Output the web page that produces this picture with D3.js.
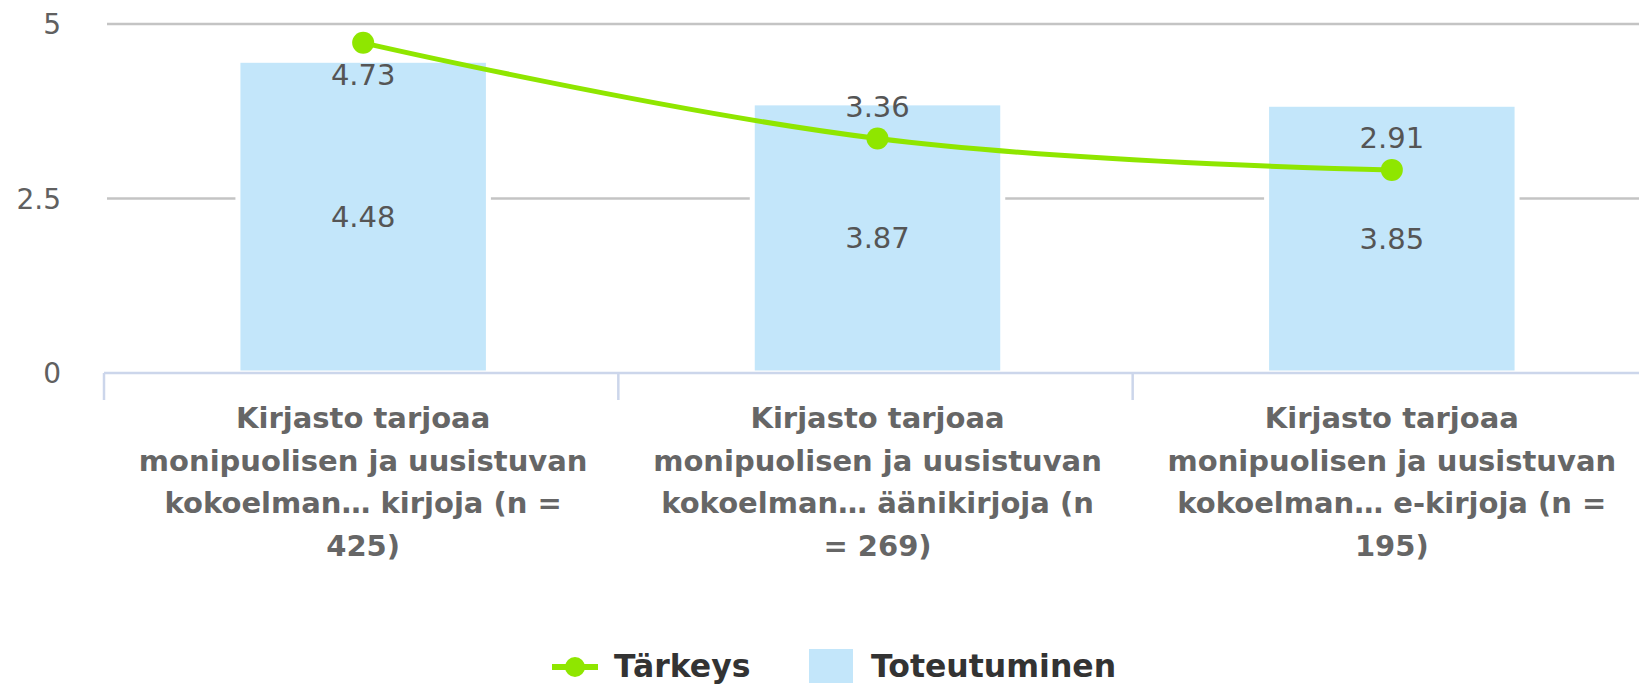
<!DOCTYPE html>
<html><head><meta charset="utf-8">
<script src="https://cdn.jsdelivr.net/npm/d3@7"></script>
<style>html,body{margin:0;padding:0;background:#fff;overflow:hidden}</style>
</head><body>
<svg id="chart" width="1639" height="689"></svg>
<script>
const categories = ["kirjoja", "äänikirjoja", "e-kirjoja"];
const categoryLabelLines = [
  ["Kirjasto tarjoaa", "monipuolisen ja uusistuvan", "kokoelman… kirjoja (n =", "425)"],
  ["Kirjasto tarjoaa", "monipuolisen ja uusistuvan", "kokoelman… äänikirjoja (n", "= 269)"],
  ["Kirjasto tarjoaa", "monipuolisen ja uusistuvan", "kokoelman… e-kirjoja (n =", "195)"]
];
const toteutuminen = [4.48, 3.87, 3.85];
const tarkeys = [4.73, 3.36, 2.91];
const yTicks = [0, 2.5, 5];
const seriesNames = ["Tärkeys", "Toteutuminen"];

const svg = d3.select("#chart");
const plotLeft = 104, plotRight = 1647, plotTop = 24, plotBottom = 373;
const FONT = "'DejaVu Sans', sans-serif";
const green = "#8fe600", blue = "#c3e6fa";

const x = d3.scaleBand().domain(categories).range([plotLeft, plotRight]).paddingInner(0).paddingOuter(0);
const y = d3.scaleLinear().domain([0, 5]).range([plotBottom, plotTop]);

// gridlines
svg.append("g").selectAll("line").data(yTicks.filter(t => t > 0)).join("line")
  .attr("x1", plotLeft + 3).attr("x2", 1639)
  .attr("y1", d => y(d)).attr("y2", d => y(d))
  .attr("stroke", "#c4c4c4").attr("stroke-width", 2.5);

// y tick labels
svg.append("g").selectAll("text").data(yTicks).join("text")
  .attr("x", 61).attr("y", d => y(d)).attr("dy", "0.36em")
  .attr("text-anchor", "end").attr("font-family", FONT).attr("font-size", 28)
  .attr("fill", "#606060").text(d => d);

// bars
const bw = x.bandwidth() * 0.487;
svg.append("g").selectAll("rect").data(toteutuminen).join("rect")
  .attr("x", (d, i) => x(categories[i]) + x.bandwidth() / 2 - bw / 2 + 2)
  .attr("width", bw)
  .attr("y", d => y(d)).attr("height", d => y(0) - y(d))
  .attr("fill", blue).attr("stroke", "#fff").attr("stroke-width", 5);

// x axis line and ticks
svg.append("line").attr("x1", plotLeft).attr("x2", 1639).attr("y1", plotBottom).attr("y2", plotBottom)
  .attr("stroke", "#ccd6eb").attr("stroke-width", 2.5);
svg.append("g").selectAll("line").data(categories).join("line")
  .attr("x1", d => x(d)).attr("x2", d => x(d))
  .attr("y1", plotBottom).attr("y2", plotBottom + 27)
  .attr("stroke", "#ccd6eb").attr("stroke-width", 2.5);

// category labels
const catG = svg.append("g");
categoryLabelLines.forEach((lines, i) => {
  const cx = x(categories[i]) + x.bandwidth() / 2 + 2;
  const t = catG.append("text").attr("font-family", FONT).attr("font-size", 29)
    .attr("font-weight", "bold").attr("fill", "#666").attr("text-anchor", "middle");
  lines.forEach((ln, j) => {
    t.append("tspan").attr("x", cx).attr("y", 428 + j * 42.6).text(ln);
  });
});

// line series
const px = (d, i) => x(categories[i]) + x.bandwidth() / 2 + 2;
const line = d3.line().x(px).y(d => y(d)).curve(d3.curveCardinal.tension(-0.2));
svg.append("path").datum(tarkeys).attr("d", line)
  .attr("fill", "none").attr("stroke", green).attr("stroke-width", 5);
svg.append("g").selectAll("circle").data(tarkeys).join("circle")
  .attr("cx", px).attr("cy", d => y(d)).attr("r", 11).attr("fill", green);

// data labels - bars (centered)
svg.append("g").selectAll("text").data(toteutuminen).join("text")
  .attr("x", px).attr("y", d => (y(d) + y(0)) / 2).attr("dy", "0.36em")
  .attr("text-anchor", "middle").attr("font-family", FONT).attr("font-size", 29)
  .attr("fill", "#555").text(d => d.toFixed(2));

// data labels - line (above point, flipped below if outside plot)
svg.append("g").selectAll("text").data(tarkeys).join("text")
  .attr("x", px).attr("y", d => { const yy = y(d) - 32; return (yy - 14 < 0) ? y(d) + 32 : yy; })
  .attr("dy", "0.36em")
  .attr("text-anchor", "middle").attr("font-family", FONT).attr("font-size", 29)
  .attr("fill", "#555").text(d => d.toFixed(2));

// legend
const lg = svg.append("g");
lg.append("line").attr("x1", 552).attr("x2", 598).attr("y1", 667).attr("y2", 667)
  .attr("stroke", green).attr("stroke-width", 6);
lg.append("circle").attr("cx", 575).attr("cy", 667).attr("r", 10).attr("fill", green);
lg.append("text").attr("x", 614).attr("y", 677).attr("font-family", FONT).attr("font-size", 31.5)
  .attr("font-weight", "bold").attr("fill", "#333").text(seriesNames[0]);
lg.append("rect").attr("x", 809).attr("y", 649).attr("width", 44).attr("height", 34).attr("fill", blue);
lg.append("text").attr("x", 871).attr("y", 677).attr("font-family", FONT).attr("font-size", 31.5)
  .attr("font-weight", "bold").attr("fill", "#333").text(seriesNames[1]);
</script>
</body></html>
